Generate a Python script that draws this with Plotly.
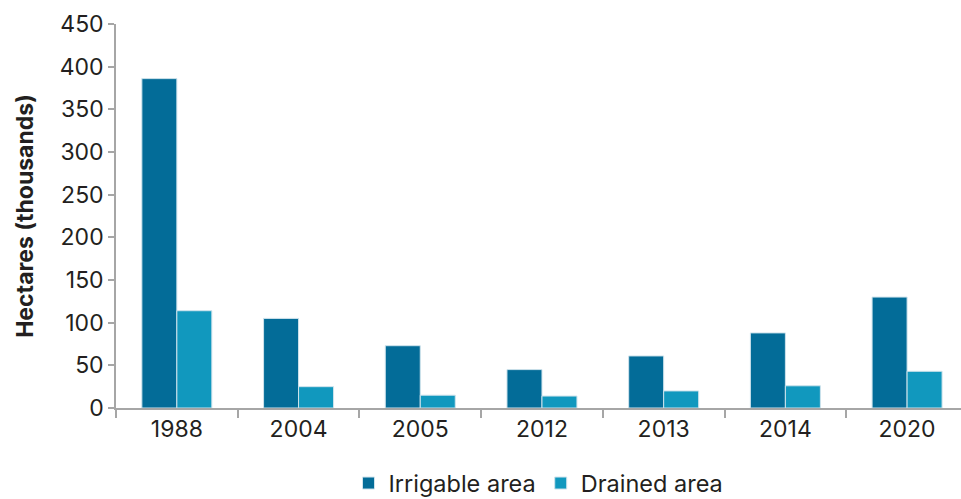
import plotly.graph_objects as go

years = ["1988", "2004", "2005", "2012", "2013", "2014", "2020"]
irrigable = [386, 105, 73, 45, 61, 88, 130]
drained = [114, 25, 15, 14, 20, 26, 43]
y_ticks = [0, 50, 100, 150, 200, 250, 300, 350, 400, 450]

FONT = "Inter"
TXT = "#231f20"

fig = go.Figure()
fig.add_trace(go.Bar(x=years, y=irrigable, name="Irrigable area",
                     marker=dict(color="#036c98", line=dict(color="#cfe3ec", width=1))))
fig.add_trace(go.Bar(x=years, y=drained, name="Drained area",
                     marker=dict(color="#1198be", line=dict(color="#cfe3ec", width=1))))

fig.update_layout(
    width=961, height=499,
    margin=dict(l=116, r=0, t=24, b=91, autoexpand=False),
    paper_bgcolor="white", plot_bgcolor="white",
    barmode="group", bargap=0.425, bargroupgap=0,
    font=dict(family=FONT, size=23, color=TXT),
    showlegend=True,
    legend=dict(orientation="h", x=0.5, xanchor="center", y=-0.196, yanchor="middle",
                font=dict(size=23.5, color=TXT), itemwidth=30, traceorder="normal"),
)
fig.update_xaxes(
    type="category", range=[-0.5, 6.443],
    showline=True, linecolor="#a6a6a6", linewidth=1.5,
    ticks="outside", tickson="boundaries", ticklen=8, tickcolor="#a6a6a6", tickwidth=1.5,
    showgrid=False, tickfont=dict(size=23, color=TXT),
)
fig.update_yaxes(
    range=[0, 450], tickvals=y_ticks,
    showline=True, linecolor="#a6a6a6", linewidth=1.5,
    ticks="outside", ticklen=6, tickcolor="#a6a6a6", tickwidth=1.5,
    showgrid=False, zeroline=False, tickfont=dict(size=23, color=TXT),
    title=dict(text="<b>Hectares (thousands)</b>", font=dict(size=23, color=TXT), standoff=20),
)

fig.write_html("out.html")
